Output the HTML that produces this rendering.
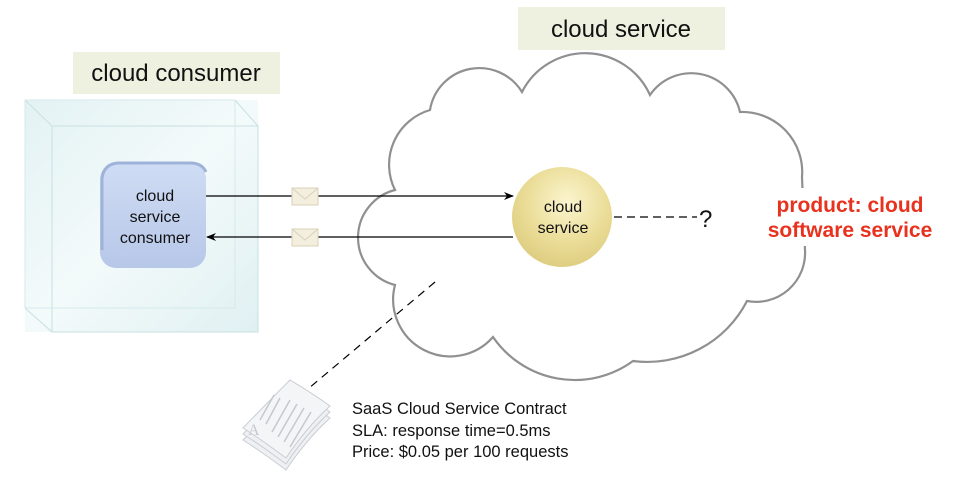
<!DOCTYPE html>
<html><head><meta charset="utf-8"><style>
body{margin:0;background:#fff;}
svg{display:block;font-family:"Liberation Sans",sans-serif;}
</style></head><body>
<svg width="964" height="490" viewBox="0 0 964 490" xmlns="http://www.w3.org/2000/svg">
<defs>
<radialGradient id="ball" cx="0.55" cy="0.35" r="0.7">
<stop offset="0" stop-color="#fbf5cf"/><stop offset="0.6" stop-color="#eadc96"/><stop offset="1" stop-color="#dccb7e"/>
</radialGradient>
<linearGradient id="cons" x1="0" y1="0" x2="0" y2="1">
<stop offset="0" stop-color="#cfdcf4"/><stop offset="1" stop-color="#b7c7e8"/>
</linearGradient>
<linearGradient id="cube" x1="0" y1="0" x2="1" y2="1">
<stop offset="0" stop-color="#e3f2f4"/><stop offset="0.5" stop-color="#f3fafa"/><stop offset="1" stop-color="#e0f0f2"/>
</linearGradient>
<marker id="ar" markerWidth="10" markerHeight="8" refX="9" refY="4" orient="auto" markerUnits="userSpaceOnUse">
<path d="M0,0 L10,4 L0,8 L3,4 Z" fill="#000"/></marker>
</defs>
<rect x="73" y="52" width="207" height="42" fill="#eef1e0"/>
<text x="176" y="81" font-size="24" text-anchor="middle" fill="#111">cloud consumer</text>
<rect x="518" y="7" width="207" height="43" fill="#eef1e0"/>
<text x="621" y="37" font-size="24" text-anchor="middle" fill="#111">cloud service</text>
<rect x="25" y="100" width="233" height="232" fill="url(#cube)"/>
<rect x="52" y="126" width="206" height="206" fill="none" stroke="#c8e0e2" stroke-width="1"/>
<path d="M25,100 L52,126 M25,308 L52,332 M235,100 L258,126" stroke="#c8e0e2" fill="none"/>
<rect x="25" y="100" width="210" height="208" fill="none" stroke="#d6eaec"/>
<rect x="100" y="163" width="106" height="105" rx="16" fill="url(#cons)"/>
<path d="M102,250 L102,178 Q104,164 118,163 L190,163 Q202,163 206,172" stroke="#9fb2da" stroke-width="3" fill="none"/>
<text font-size="16" text-anchor="middle" fill="#111"><tspan x="155" y="201">cloud</tspan><tspan x="155" y="222">service</tspan><tspan x="155" y="243">consumer</tspan></text>
<path d="M395,190 A57,57 0 0 1 430,110 A50,50 0 0 1 522,92 A71,71 0 0 1 650,95 A50,50 0 0 1 740,112 A60,60 0 0 1 802,177 L805,250 A49,49 0 0 1 747,301 A112,112 0 0 1 633,361 A99,99 0 0 1 493,337 A57,57 0 0 1 395,285 A49,49 0 0 1 395,190 Z" fill="#fff" stroke="#8f9092" stroke-width="2.2"/>
<rect x="758" y="188" width="190" height="58" fill="#fff"/>
<line x1="206" y1="196" x2="513" y2="196" stroke="#000" stroke-width="1.2" marker-end="url(#ar)"/>
<line x1="513" y1="237" x2="207" y2="237" stroke="#000" stroke-width="1.2" marker-end="url(#ar)"/>
<g stroke="#d8d2b8" fill="#f3eedd">
<rect x="292" y="188" width="26" height="17"/><path d="M292,188 L305,199 L318,188" fill="none"/>
<rect x="292" y="229" width="26" height="17"/><path d="M292,229 L305,240 L318,229" fill="none"/>
</g>
<circle cx="562" cy="217" r="50" fill="url(#ball)"/>
<text font-size="16" text-anchor="middle" fill="#111"><tspan x="563" y="212">cloud</tspan><tspan x="563" y="233">service</tspan></text>
<line x1="614" y1="217" x2="697" y2="217" stroke="#000" stroke-width="1.2" stroke-dasharray="8,5"/>
<text x="699" y="227" font-size="24" fill="#111">?</text>
<line x1="435" y1="282" x2="302" y2="394" stroke="#000" stroke-width="1.2" stroke-dasharray="8,6"/>
<text font-size="21" font-weight="bold" fill="#e8321e" text-anchor="middle"><tspan x="850" y="212">product:  cloud</tspan><tspan x="850" y="237">software service</tspan></text>
<g stroke="#c9ccd2" fill="#eef0f3">
<path d="M243,440 Q270,412 290,392 Q312,405 330,418 Q306,440 286,470 Q262,452 243,440 Z"/>
<path d="M243,434 Q270,406 290,386 Q312,399 330,412 Q306,434 286,464 Q262,446 243,434 Z"/>
<path d="M243,428 Q270,400 290,380 Q312,393 330,406 Q306,428 286,458 Q262,440 243,428 Z" fill="#f4f5f7"/>
</g>
<g stroke="#c5c8ce" stroke-width="1.5">
<line x1="274" y1="395" x2="260" y2="420"/><line x1="280" y1="398" x2="266" y2="424"/>
<line x1="290" y1="400" x2="272" y2="432"/><line x1="297" y1="404" x2="278" y2="437"/>
<line x1="304" y1="408" x2="284" y2="442"/><line x1="311" y1="412" x2="290" y2="447"/>
</g>
<text x="248" y="435" font-size="16" fill="#c5c8ce" font-family="Liberation Serif">A</text>
<text font-size="16.5" fill="#111"><tspan x="352" y="414">SaaS Cloud Service Contract</tspan><tspan x="352" y="436">SLA: response time=0.5ms</tspan><tspan x="352" y="457">Price: $0.05 per 100 requests</tspan></text>
</svg>
</body></html>
